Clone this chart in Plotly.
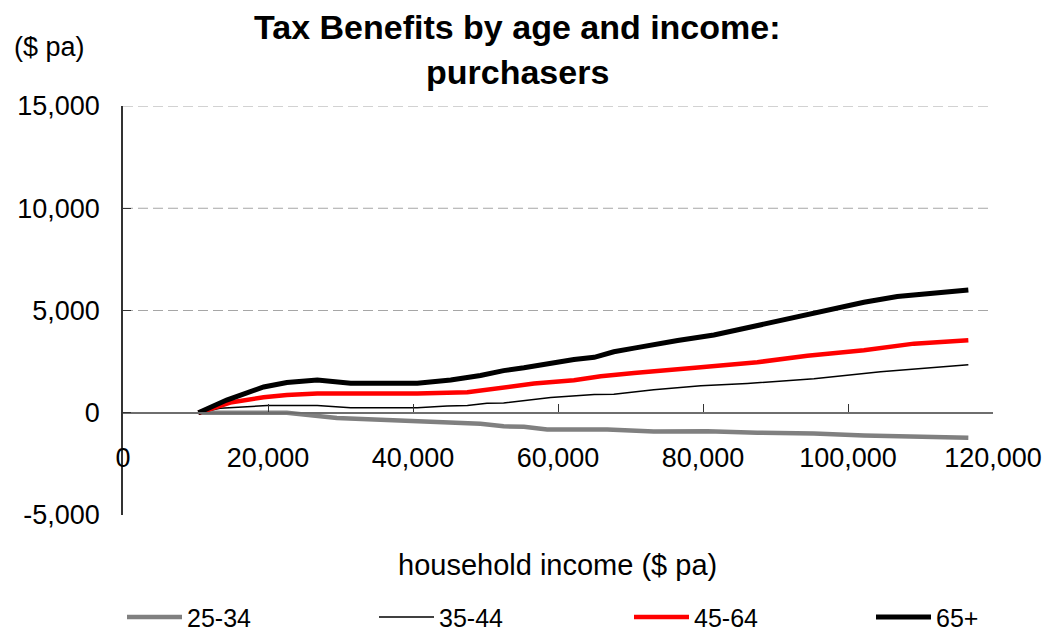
import plotly.graph_objects as go

# ---- data ----
x_25_34 = [10400, 22600, 29500, 41000, 45200, 49300, 52500, 55300, 58500, 66800, 73200, 80600, 87500, 95300, 102200, 109100, 116600]
y_25_34 = [0, 0, -260, -440, -530, -540, -660, -690, -820, -820, -920, -900, -980, -1010, -1110, -1140, -1220]

x_35_44 = [10400, 13400, 19900, 26800, 31400, 40600, 44700, 47500, 50200, 52500, 59000, 65000, 67700, 73200, 79700, 86100, 95300, 104500, 116600]
y_35_44 = [0, 220, 350, 350, 240, 240, 330, 350, 460, 480, 750, 890, 910, 1130, 1320, 1430, 1660, 2000, 2350]

x_45_64 = [10400, 14800, 19400, 22600, 26800, 40600, 47500, 52100, 56700, 62200, 65900, 70500, 75100, 79700, 87500, 94400, 102200, 109100, 116600]
y_45_64 = [0, 500, 760, 870, 940, 940, 1000, 1240, 1430, 1590, 1780, 1940, 2100, 2230, 2470, 2790, 3060, 3380, 3550]

x_65p = [10400, 14300, 19400, 22600, 26800, 31400, 40600, 45200, 49300, 52500, 55300, 59000, 62200, 65000, 67700, 70500, 73200, 76500, 81500, 86100, 90700, 95300, 99900, 102200, 106800, 116600]
y_65p = [0, 620, 1260, 1480, 1600, 1440, 1440, 1600, 1820, 2060, 2200, 2420, 2600, 2710, 2980, 3160, 3350, 3530, 3800, 4150, 4500, 4870, 5200, 5400, 5680, 6000]

series = [
    ("25-34", x_25_34, y_25_34, "#808080", 4.5),
    ("35-44", x_35_44, y_35_44, "#000000", 1.5),
    ("45-64", x_45_64, y_45_64, "#ff0000", 4.5),
    ("65+", x_65p, y_65p, "#000000", 5),
]

x_ticks = [0, 20000, 40000, 60000, 80000, 100000, 120000]
x_ticktext = ["0", "20,000", "40,000", "60,000", "80,000", "100,000", "120,000"]
y_ticks = [-5000, 0, 5000, 10000, 15000]
y_ticktext = ["-5,000", "0", "5,000", "10,000", "15,000"]
grid_vals = [5000, 10000, 15000]

FONT = "Liberation Sans, Arial, sans-serif"
NARROW = "Liberation Sans Narrow, Arial Narrow, Liberation Sans, sans-serif"

# one legend box per entry so each entry can sit where the reference has it
legend_ids = ["legend", "legend2", "legend3", "legend4"]
legend_x_px = [122, 374, 629, 871]

fig = go.Figure()
for (name, xs, ys, col, w), lid in zip(series, legend_ids):
    fig.add_trace(go.Scatter(x=xs, y=ys, mode="lines", name=name, legend=lid,
                             line=dict(color=col, width=w)))

# dashed gridlines
for g in grid_vals:
    fig.add_shape(type="line", xref="paper", x0=0, x1=1, yref="y", y0=g, y1=g,
                  line=dict(color="#a6a6a6", width=1, dash="10px,5px"), layer="below")

legend_common = dict(orientation="h", xref="container", xanchor="left",
                     y=-0.25, yref="paper", yanchor="middle",
                     font=dict(size=25, family=NARROW), itemwidth=55,
                     bgcolor="rgba(0,0,0,0)")
legend_layout = {}
for lid, px in zip(legend_ids, legend_x_px):
    legend_layout[lid] = dict(legend_common, x=px / 1048)

fig.update_layout(
    width=1048, height=634,
    margin=dict(l=123, r=55, t=106, b=119, autoexpand=False),
    paper_bgcolor="white", plot_bgcolor="white",
    font=dict(family=FONT, size=27, color="black"),
    showlegend=True,
    xaxis=dict(range=[0, 120000], tickvals=x_ticks, ticktext=x_ticktext,
               showgrid=False, zeroline=False, automargin=False,
               showline=True, linecolor="#6e6e6e", linewidth=1.5,
               ticks="inside", ticklen=8, tickcolor="#333333",
               anchor="free", position=0.25,
               ticklabelstandoff=21),
    yaxis=dict(range=[-5000, 15000], tickvals=y_ticks, ticktext=y_ticktext,
               showgrid=False, zeroline=False, automargin=False,
               showline=True, linecolor="#333333", linewidth=1.5,
               ticks="inside", ticklen=8, tickcolor="#333333",
               ticklabelstandoff=16),
    **legend_layout,
)

fig.add_annotation(text="<b>Tax Benefits by age and income:</b>", xref="paper", yref="paper",
                   x=0.453, y=1.193, xanchor="center", yanchor="middle",
                   showarrow=False, font=dict(size=34))
fig.add_annotation(text="<b>purchasers</b>", xref="paper", yref="paper",
                   x=0.453, y=1.083, xanchor="center", yanchor="middle",
                   showarrow=False, font=dict(size=34))
fig.add_annotation(text="($ pa)", xref="paper", yref="paper",
                   x=-0.1276, y=1.144, xanchor="left", yanchor="middle",
                   showarrow=False, font=dict(size=27))
fig.add_annotation(text="household income ($ pa)", xref="paper", yref="paper",
                   x=0.499, y=-0.122, xanchor="center", yanchor="middle",
                   showarrow=False, font=dict(size=29))

fig.write_html("out.html", config={"displayModeBar": False},
               post_script="document.body.style.margin='0px';")
